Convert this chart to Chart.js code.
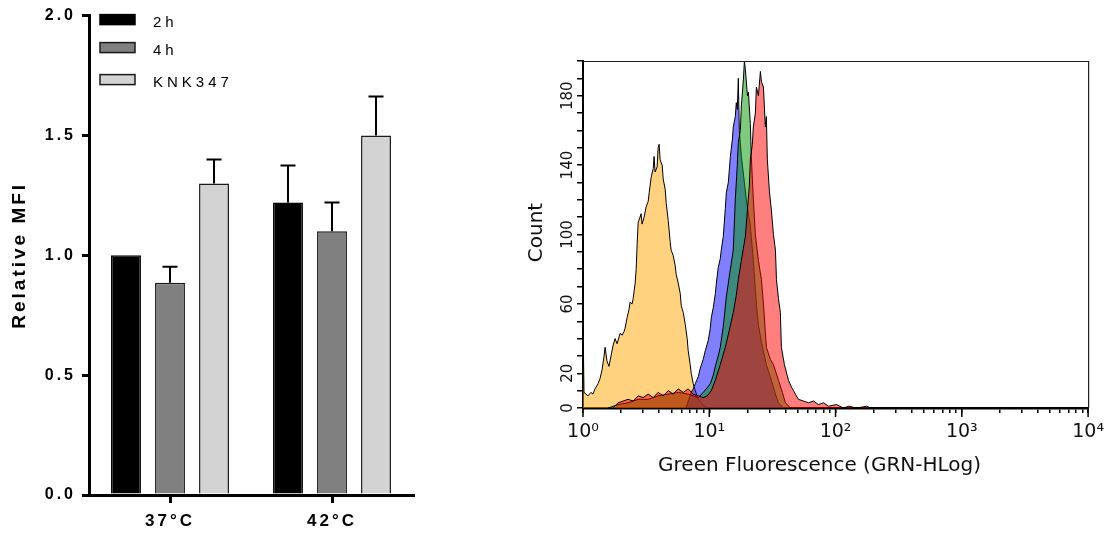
<!DOCTYPE html>
<html><head><meta charset="utf-8">
<script src="https://cdn.jsdelivr.net/npm/chart.js@4"></script>
<style>
html,body{margin:0;padding:0;background:#fff;width:1112px;height:536px;overflow:hidden}
#left{position:absolute;left:0;top:0;width:450px;height:536px}
#right{position:absolute;left:450px;top:0;width:662px;height:536px}
</style></head><body>
<div id="left"><canvas id="barChart" width="450" height="536"></canvas></div>
<div id="right"><canvas id="histChart" width="662" height="536"></canvas></div>
<script>
// ---------- Bar chart data ----------
const categories = ['37°C', '42°C'];
const seriesNames = ['2h', '4h', 'KNK347'];
const mean2h = [1.0, 1.22];
const mean4h = [0.885, 1.10];
const meanKNK = [1.30, 1.50];
const err2h = [0, 0.155];
const err4h = [0.067, 0.12];
const errKNK = [0.10, 0.163];
const barYTicks = [0, 0.5, 1.0, 1.5, 2.0];
const barYTitle = 'Relative MFI';

// ---------- Histogram data (log10 of fluorescence, event count) ----------
const yellowLog = [0.000,0.008,0.024,0.040,0.063,0.079,0.095,0.119,0.135,0.151,0.167,0.175,0.190,0.206,0.222,0.238,0.254,0.270,0.286,0.294,0.310,0.325,0.333,0.349,0.365,0.373,0.389,0.397,0.413,0.421,0.429,0.437,0.452,0.460,0.468,0.484,0.500,0.516,0.524,0.540,0.556,0.563,0.571,0.587,0.595,0.603,0.611,0.627,0.635,0.651,0.659,0.675,0.690,0.698,0.714,0.730,0.738,0.754,0.770,0.778,0.794,0.810,0.825,0.833,0.849,0.857,0.873,0.889,0.913,0.937,0.960,0.992];
const yellowCount = [50,9,8,7,9,8,11,14,17,22,30,35,27,24,30,36,40,37,41,43,42,44,46,52,57,61,60,63,72,80,95,107,110,112,106,110,116,119,124,133,138,145,136,139,150,152,143,140,132,126,118,108,96,91,88,82,77,72,66,59,55,48,40,33,25,20,14,10,5,3,1,0];

const blueLog = [0.817,0.833,0.857,0.873,0.889,0.913,0.929,0.952,0.968,0.992,1.008,1.016,1.032,1.048,1.056,1.071,1.087,1.095,1.111,1.127,1.135,1.151,1.167,1.183,1.190,1.206,1.214,1.222,1.230,1.238,1.254,1.278,1.294,1.310,1.325,1.349,1.373,1.389,1.413,1.452,1.492,1.524,1.548,1.587];
const blueCount = [0,4,9,11,14,18,23,28,33,39,46,52,58,66,72,81,86,91,99,115,124,130,145,155,162,168,176,172,190,160,145,130,120,112,105,85,60,48,38,25,16,8,3,0];

const greenLog = [0.198,0.278,0.357,0.437,0.516,0.595,0.675,0.754,0.833,0.873,0.913,0.952,0.976,1.008,1.032,1.048,1.071,1.087,1.111,1.135,1.151,1.167,1.190,1.206,1.222,1.230,1.246,1.254,1.270,1.278,1.286,1.302,1.310,1.325,1.333,1.349,1.365,1.389,1.413,1.429,1.452,1.484,1.508,1.548,1.579,1.603,1.643];
const greenCount = [0,2,3,5,5,7,8,9,8,7,6,9,11,14,19,24,30,35,47,64,72,80,91,120,140,153,160,174,189,200,195,180,182,164,145,120,100,85,74,60,35,28,25,16,9,3,0];

const redLog = [0.238,0.278,0.317,0.357,0.397,0.437,0.476,0.516,0.556,0.595,0.635,0.675,0.714,0.754,0.794,0.833,0.873,0.913,0.952,0.984,1.016,1.048,1.087,1.127,1.159,1.190,1.214,1.230,1.254,1.270,1.286,1.302,1.317,1.325,1.341,1.349,1.365,1.373,1.389,1.405,1.413,1.429,1.444,1.452,1.460,1.476,1.492,1.508,1.524,1.532,1.548,1.563,1.571,1.595,1.627,1.651,1.667,1.690,1.706,1.746,1.786,1.825,1.865,1.905,1.944,2.008,2.063,2.103,2.167,2.246,2.278];
const redCount = [0,3,4,5,4,7,6,8,6,9,7,10,8,11,9,11,8,7,6,7,10,16,25,35,45,55,65,74,85,92,99,114,128,143,152,162,170,185,180,194,188,185,162,168,143,125,114,100,91,74,63,55,35,25,16,12,10,7,5,4,3,4,2,3,1,2,0,1,0,1,0];

const histXDecades = [1, 10, 100, 1000];
const histXMultipliers = [1, 2, 3, 4, 5, 6, 7, 8, 9];
const histXMax = 10000;
const histXLabels = ['10⁰', '10¹', '10²', '10³', '10⁴'];
const histYTicks = [0,10,20,30,40,50,60,70,80,90,100,110,120,130,140,150,160,170,180,190,200];
const histYLabels = [0, 20, 60, 100, 140, 180];
const histXTitle = 'Green Fluorescence (GRN-HLog)';
const histYTitle = 'Count';

// ---------- Bar chart ----------
const LFONT = '"Liberation Sans", Arial, sans-serif';
const spacingPlugin = {
  id: 'spacing',
  beforeLayout(chart) { chart.ctx.letterSpacing = '3px'; },
  beforeDraw(chart) { chart.ctx.letterSpacing = '3px'; }
};
const errorBarPlugin = {
  id: 'errorBars',
  afterDatasetsDraw(chart) {
    const ctx = chart.ctx, ys = chart.scales.y;
    ctx.save();
    ctx.strokeStyle = '#000';
    ctx.lineWidth = 2;
    chart.data.datasets.forEach((ds, i) => {
      const meta = chart.getDatasetMeta(i);
      meta.data.forEach((el, j) => {
        const e = ds.errors[j];
        if (!e) return;
        const yTop = ys.getPixelForValue(ds.data[j] + e);
        ctx.beginPath();
        ctx.moveTo(el.x, el.y);
        ctx.lineTo(el.x, yTop);
        ctx.moveTo(el.x - 7.5, yTop);
        ctx.lineTo(el.x + 7.5, yTop);
        ctx.stroke();
      });
    });
    ctx.restore();
  }
};
const barLegendPlugin = {
  id: 'barLegend',
  afterDraw(chart) {
    const ctx = chart.ctx, a = chart.chartArea;
    const rowOffsets = [0, 28, 60];
    ctx.save();
    ctx.letterSpacing = '4px';
    ctx.font = '15px ' + LFONT;
    ctx.textBaseline = 'middle';
    ctx.textAlign = 'left';
    chart.data.datasets.forEach((ds, i) => {
      const x = a.left + 11, y = a.top - 1 + rowOffsets[i];
      ctx.fillStyle = ds.backgroundColor;
      ctx.fillRect(x, y, 35, 10);
      ctx.lineWidth = 1.5;
      ctx.strokeStyle = ds.borderColor;
      ctx.strokeRect(x, y, 35, 10);
      ctx.fillStyle = '#000';
      ctx.fillText(ds.label, x + 53, y + 8);
    });
    ctx.restore();
  }
};

new Chart(document.getElementById('barChart'), {
  type: 'bar',
  data: {
    labels: categories,
    datasets: [
      { label: seriesNames[0], data: mean2h, errors: err2h, backgroundColor: '#000000', borderColor: '#000000', borderWidth: 1.5 },
      { label: seriesNames[1], data: mean4h, errors: err4h, backgroundColor: '#808080', borderColor: '#1a1a1a', borderWidth: 1.5 },
      { label: seriesNames[2], data: meanKNK, errors: errKNK, backgroundColor: '#d3d3d3', borderColor: '#1a1a1a', borderWidth: 1.5 }
    ]
  },
  options: {
    responsive: false,
    animation: false,
    layout: { padding: { top: 15, right: 37, bottom: 0, left: 0 } },
    datasets: { bar: { categoryPercentage: 0.815, barPercentage: 0.68 } },
    plugins: { legend: { display: false }, tooltip: { enabled: false } },
    scales: {
      x: {
        grid: { display: true, drawOnChartArea: false, offset: false, tickLength: 8, lineWidth: 3, color: '#000' },
        border: { display: true, width: 3, color: '#000' },
        ticks: { color: '#000', font: { family: LFONT, size: 17, weight: 'bold' }, padding: 8, maxRotation: 0 },
        afterFit(s) { s.height = 41; }
      },
      y: {
        min: 0, max: 2,
        afterBuildTicks(s) { s.ticks = barYTicks.map(v => ({ value: v })); },
        grid: { display: true, drawOnChartArea: false, tickLength: 7, lineWidth: 3, color: '#000' },
        border: { display: true, width: 3, color: '#000' },
        ticks: { color: '#000', font: { family: LFONT, size: 16, weight: 'bold' }, padding: 6, callback: v => Number(v).toFixed(1) },
        title: { display: true, text: barYTitle, color: '#000', font: { family: LFONT, size: 19, weight: 'bold' }, padding: { top: 8, bottom: 0 } },
        afterFit(s) { s.width = 89; }
      }
    }
  },
  plugins: [spacingPlugin, errorBarPlugin, barLegendPlugin]
});

// ---------- Histogram ----------
const HFONT = '"DejaVu Sans", Verdana, sans-serif';
function toPoints(logs, counts) { return logs.map((d, i) => ({ x: Math.pow(10, d), y: counts[i] })); }
const histXTicks = [];
histXDecades.forEach(d => histXMultipliers.forEach(m => histXTicks.push(m * d)));
histXTicks.push(histXMax);
const isDecade = v => Math.abs(Math.log10(v) - Math.round(Math.log10(v))) < 1e-9;

const histDecor = {
  id: 'histDecor',
  afterDraw(chart) {
    const ctx = chart.ctx, a = chart.chartArea, xs = chart.scales.x;
    ctx.save();
    ctx.strokeStyle = '#222';
    ctx.lineWidth = 1.2;
    ctx.beginPath();
    ctx.moveTo(a.left, a.top + 0.5);
    ctx.lineTo(a.right + 0.5, a.top + 0.5);
    ctx.lineTo(a.right + 0.5, a.bottom);
    ctx.stroke();
    ctx.strokeStyle = '#000';
    ctx.lineWidth = 1.5;
    histXTicks.filter(isDecade).forEach(v => {
      const x = xs.getPixelForValue(v);
      ctx.beginPath();
      ctx.moveTo(x, a.bottom);
      ctx.lineTo(x, a.bottom + 9);
      ctx.stroke();
    });
    ctx.fillStyle = '#111';
    ctx.textAlign = 'center';
    ctx.textBaseline = 'middle';
    ctx.font = '20px ' + HFONT;
    ctx.fillText(histXTitle, (a.left + a.right) / 2 - 16, a.bottom + 58);
    ctx.translate(a.left - 46, (a.top + a.bottom) / 2 - 2);
    ctx.rotate(-Math.PI / 2);
    ctx.fillText(histYTitle, 0, 0);
    ctx.restore();
  }
};

const histStyle = (label, data, fill, order) => ({
  label, data, backgroundColor: fill, borderColor: '#000', borderWidth: 1,
  fill: 'origin', pointRadius: 0, tension: 0, order
});

new Chart(document.getElementById('histChart'), {
  type: 'line',
  data: {
    datasets: [
      histStyle('yellow', toPoints(yellowLog, yellowCount), 'rgba(255,165,0,0.5)', 4),
      histStyle('blue', toPoints(blueLog, blueCount), 'rgba(0,0,255,0.5)', 3),
      histStyle('green', toPoints(greenLog, greenCount), 'rgba(0,150,0,0.5)', 2),
      histStyle('red', toPoints(redLog, redCount), 'rgba(255,0,0,0.5)', 1)
    ]
  },
  options: {
    responsive: false,
    animation: false,
    layout: { padding: { top: 61, right: 23, bottom: 0, left: 0 } },
    plugins: { legend: { display: false }, tooltip: { enabled: false } },
    scales: {
      x: {
        type: 'logarithmic', min: 1, max: histXMax,
        afterBuildTicks(s) { s.ticks = histXTicks.map(v => ({ value: v })); },
        grid: { display: true, drawOnChartArea: false, tickLength: 5, lineWidth: 1.5, color: '#000' },
        border: { display: true, width: 2.5, color: '#000' },
        ticks: {
          autoSkip: false, maxRotation: 0, color: '#111', padding: 8,
          font: { family: HFONT, size: 19 },
          callback: v => isDecade(v) ? histXLabels[Math.round(Math.log10(v))] : ''
        },
        afterFit(s) { s.height = 128; }
      },
      y: {
        min: 0, max: 200,
        afterBuildTicks(s) { s.ticks = histYTicks.map(v => ({ value: v })); },
        grid: { display: true, drawOnChartArea: false, tickLength: 6, lineWidth: 1.5, color: '#000' },
        border: { display: true, width: 2, color: '#000' },
        ticks: {
          autoSkip: false, minRotation: 90, maxRotation: 90, crossAlign: 'center', padding: -5,
          color: '#111', font: { family: HFONT, size: 15 },
          callback: v => histYLabels.includes(v) ? String(v) : ''
        },
        afterFit(s) { s.width = 133; }
      }
    }
  },
  plugins: [histDecor]
});
</script>
</body></html>
